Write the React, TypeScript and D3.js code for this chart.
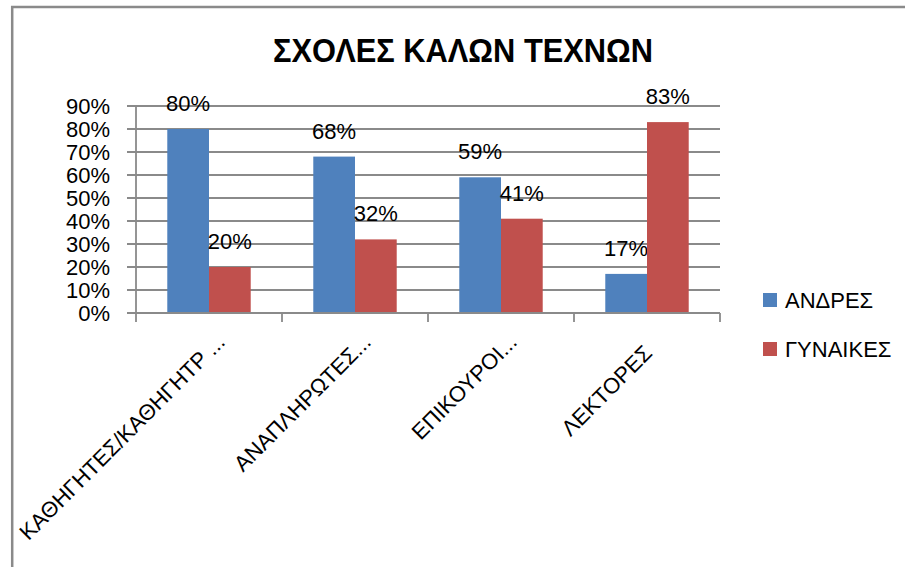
import React from "react";
import * as d3 from "d3";

const categories = ["ΚΑΘΗΓΗΤΕΣ/ΚΑΘΗΓΗΤΡ ...", "ΑΝΑΠΛΗΡΩΤΕΣ...", "ΕΠΙΚΟΥΡΟΙ...", "ΛΕΚΤΟΡΕΣ"];
const seriesNames = ["ΑΝΔΡΕΣ", "ΓΥΝΑΙΚΕΣ"];
const men = [0.8, 0.68, 0.59, 0.17];
const women = [0.2, 0.32, 0.41, 0.83];
const yTicks = [0, 0.1, 0.2, 0.3, 0.4, 0.5, 0.6, 0.7, 0.8, 0.9];
const title = "ΣΧΟΛΕΣ ΚΑΛΩΝ ΤΕΧΝΩΝ";

const colors = ["#4F81BD", "#C0504D"];
const FONT = "'Liberation Sans', Arial, sans-serif";

export default function App() {
  const W = 905, H = 567;
  const left = 136, right = 720, top = 106, bottom = 313;
  const values = [men, women];

  const x0 = d3.scaleBand<string>().domain(categories).range([left, right]).padding(0);
  const x1 = d3.scaleBand<string>().domain(seriesNames).range([0, x0.bandwidth()]).paddingInner(0).paddingOuter(0.75);
  const y = d3.scaleLinear().domain([0, 0.9]).range([bottom, top]);
  const fmt = d3.format(".0%");
  const gridColor = "#8a8a8a";

  const xTicks = [...categories.map((c) => x0(c) as number), right];

  return (
    <svg width={W} height={H} style={{ position: "absolute", left: 0, top: 0 }} fontFamily={FONT}>
      <rect x={0} y={0} width={W} height={H} fill="#fff" />
      {/* chart border */}
      <path d={`M12.2,${H} L12.2,7 L${W},7`} fill="none" stroke="#8a8a8a" strokeWidth={2.5} />
      <text x={463} y={62} textAnchor="middle" fontSize={33} fontWeight="bold" fill="#000" textLength={380} lengthAdjust="spacingAndGlyphs">
        {title}
      </text>
      {/* gridlines */}
      {yTicks.map((t) => (
        <line key={t} x1={127} x2={right} y1={y(t)} y2={y(t)} stroke={gridColor} strokeWidth={1.8} />
      ))}
      {/* y axis */}
      <line x1={left} x2={left} y1={top} y2={bottom} stroke={gridColor} strokeWidth={1.8} />
      {yTicks.map((t) => (
        <text key={"yl" + t} x={110} y={y(t) + 8} textAnchor="end" fontSize={22} fill="#000">
          {fmt(t)}
        </text>
      ))}
      {/* bars */}
      {categories.map((c, i) =>
        seriesNames.map((s, j) => {
          const v = values[j][i];
          const bx = (x0(c) as number) + (x1(s) as number);
          return (
            <g key={c + s}>
              <rect x={bx} y={y(v)} width={x1.bandwidth()} height={bottom - y(v)} fill={colors[j]} />
              <text x={bx + x1.bandwidth() / 2} y={y(v) - 18} textAnchor="middle" fontSize={22} fill="#000">
                {fmt(v)}
              </text>
            </g>
          );
        })
      )}
      {/* x axis */}
      <line x1={127} x2={right} y1={bottom} y2={bottom} stroke={gridColor} strokeWidth={1.8} />
      {xTicks.map((t, i) => (
        <line key={"xt" + i} x1={t} x2={t} y1={bottom} y2={bottom + 9} stroke={gridColor} strokeWidth={1.8} />
      ))}
      {categories.map((c) => {
        const cx = (x0(c) as number) + x0.bandwidth() / 2;
        const truncated = c.endsWith("...");
        const ax = truncated ? cx + 12 : cx + 1;
        const ay = truncated ? 338 : 349;
        return (
          <text key={"xl" + c} x={ax} y={ay} dy="0.35em" textAnchor="end" fontSize={22} fill="#000" transform={`rotate(-45,${ax},${ay})`}>
            {c}
          </text>
        );
      })}
      {/* legend */}
      {seriesNames.map((s, j) => (
        <g key={"lg" + s}>
          <rect x={763} y={293 + j * 49} width={14} height={14} fill={colors[j]} />
          <text x={785} y={308 + j * 49} fontSize={22} fill="#000">
            {s}
          </text>
        </g>
      ))}
    </svg>
  );
}
